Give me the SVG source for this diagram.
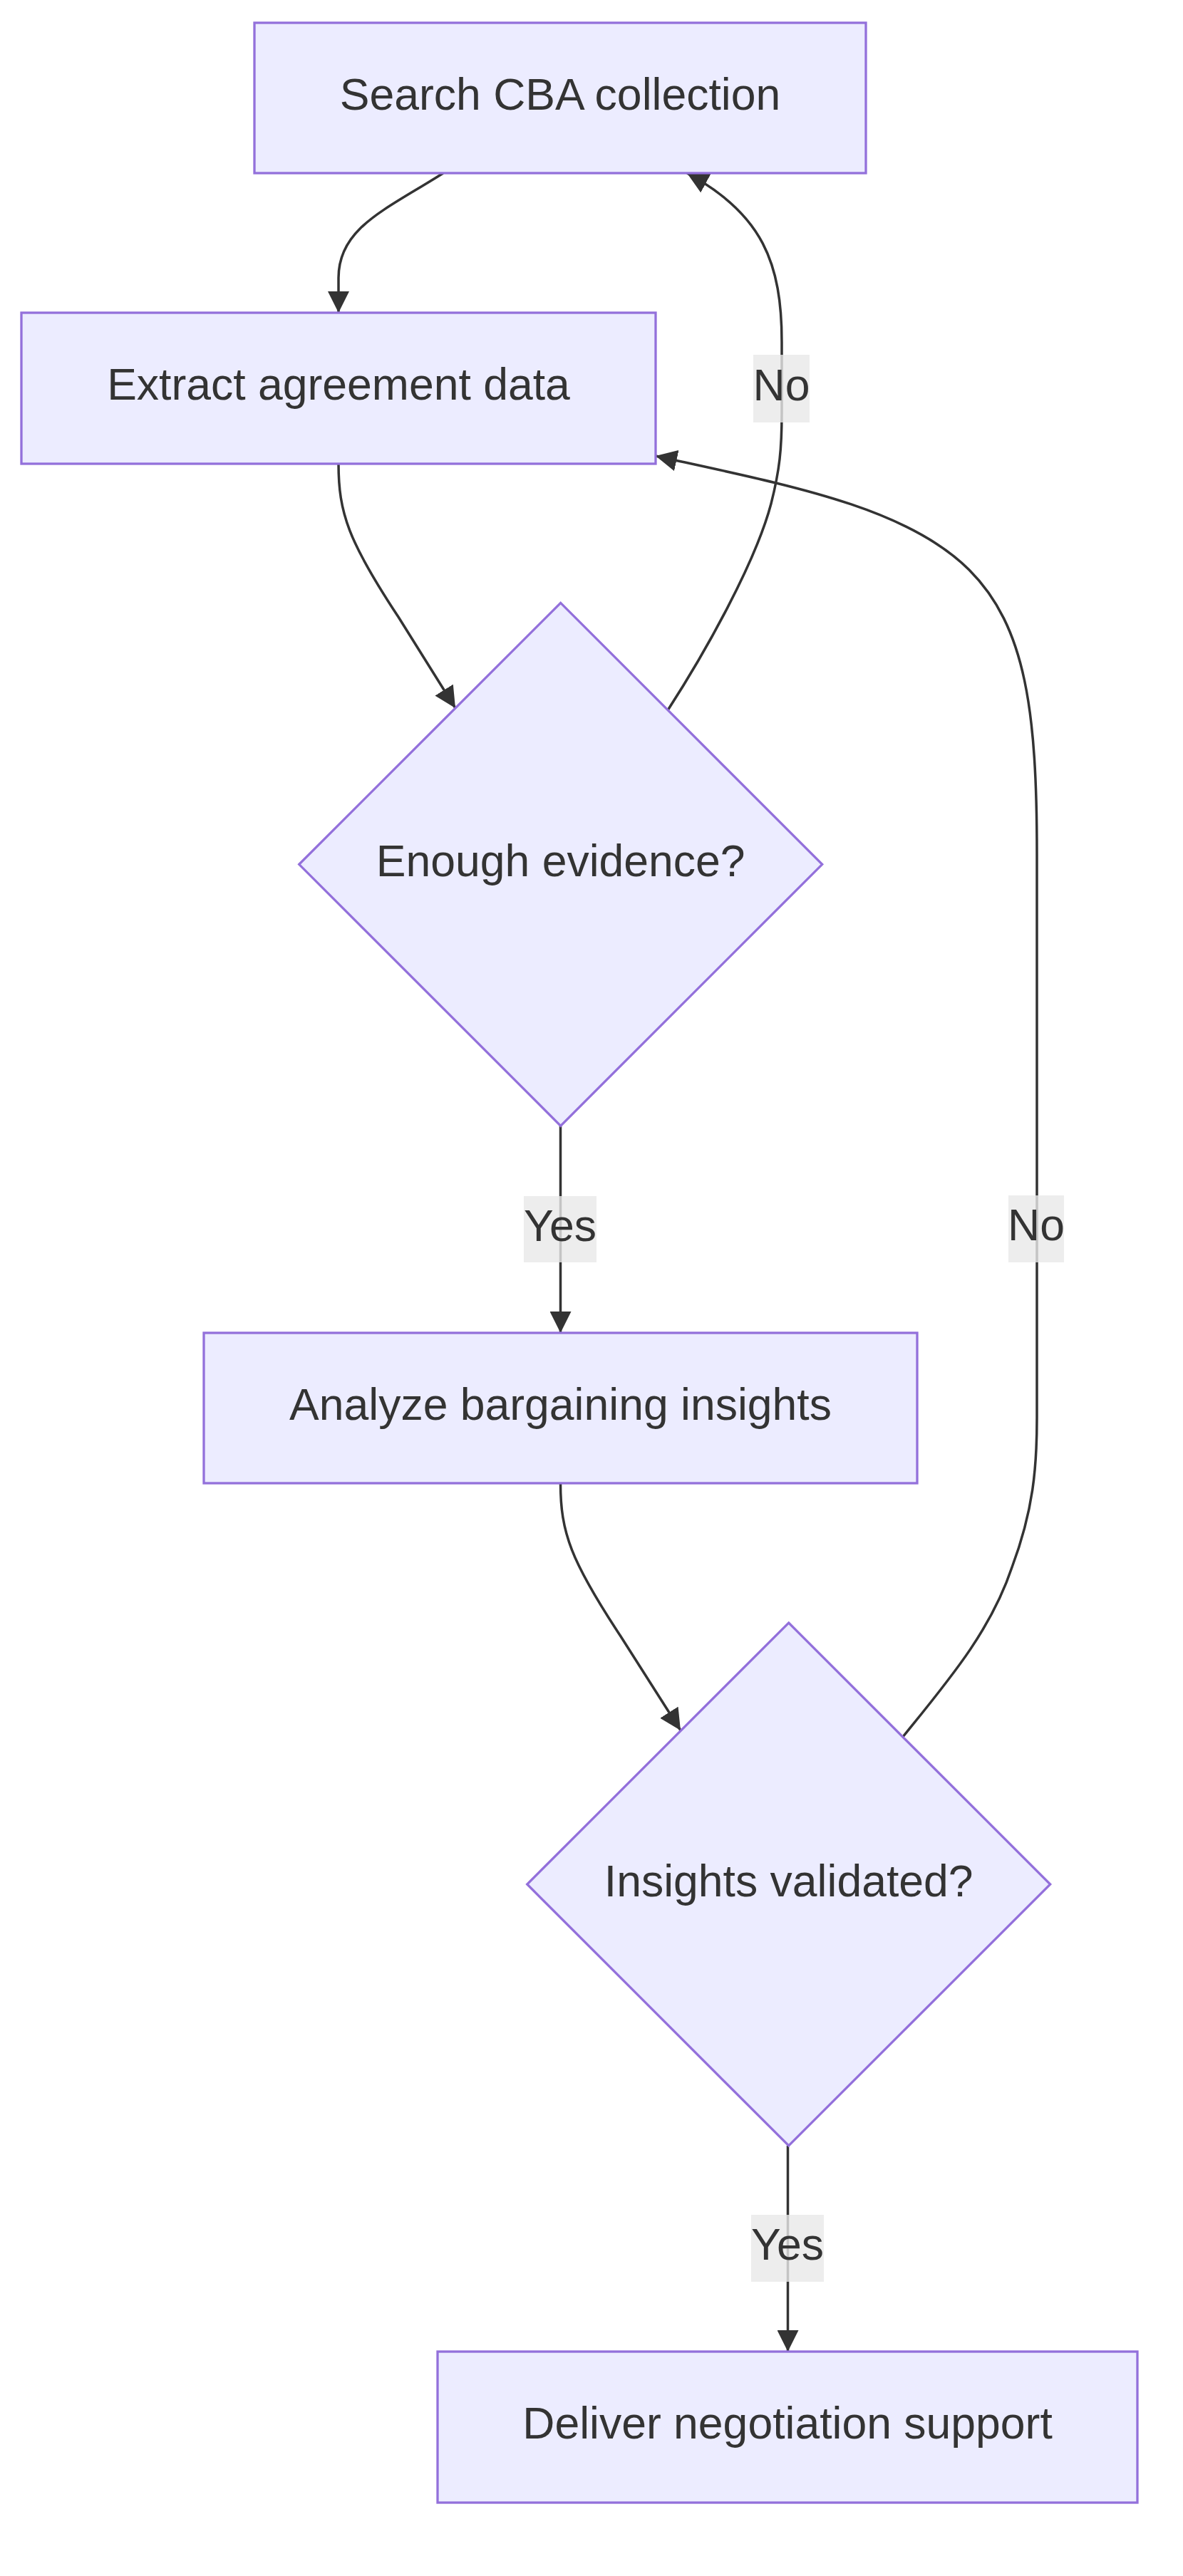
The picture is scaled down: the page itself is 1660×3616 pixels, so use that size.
<svg xmlns="http://www.w3.org/2000/svg" width="1660" height="3616" viewBox="0 0 1660 3616">
<style>
.node rect,.node polygon{fill:#ECECFF;stroke:#9370DB;stroke-width:3.3}
.lbl{font-family:"Liberation Sans",Arial,sans-serif;font-size:62.5px;fill:#333333;text-anchor:middle}
.edge{fill:none;stroke:#333333;stroke-width:3.5}
.elbg{fill:#E8E8E8;fill-opacity:0.8}
</style>
<defs>
<marker id="arrow" viewBox="0 0 10 10" refX="10" refY="5" markerUnits="userSpaceOnUse" markerWidth="30" markerHeight="30" orient="auto">
<path d="M0,0 L10,5 L0,10 z" fill="#333333"/>
</marker>
</defs>
<rect width="1660" height="3616" fill="#ffffff"/>
<g id="connectors">
<path class="edge" d="M622,243 C540,295 475,320 475,390 L475,439" marker-end="url(#arrow)"/>
<path class="edge" d="M475,651 C475,720 489,760 559,866 L639,994" marker-end="url(#arrow)"/>
<path class="edge" d="M937,997 C990,915 1060,790 1082,707 C1094,660 1097,630 1097,580 L1097,480 C1097,370 1070,300 964,243" marker-end="url(#arrow)"/>
<path class="edge" d="M786.5,1580 L786.5,1871" marker-end="url(#arrow)"/>
<path class="edge" d="M786.5,2082 C786.5,2151 801,2191 871,2297 L955,2429" marker-end="url(#arrow)"/>
<path class="edge" d="M1267,2438 C1330,2360 1390,2290 1420,2200 C1450,2120 1455,2060 1455,1990 L1455,1200 C1455,1000 1440,880 1360,800 C1270,710 1100,680 920,640" marker-end="url(#arrow)"/>
<path class="edge" d="M1105.5,3012 L1105.5,3301" marker-end="url(#arrow)"/>
<g id="label-no1"><rect class="elbg" x="1057" y="498" width="79" height="95"/><text class="lbl" x="1096.5" y="561.5">No</text></g>
<g id="label-yes1"><rect class="elbg" x="735" y="1679" width="102" height="93"/><text class="lbl" x="786" y="1741.5">Yes</text></g>
<g id="label-no2"><rect class="elbg" x="1415" y="1678" width="78" height="94"/><text class="lbl" x="1454" y="1741">No</text></g>
<g id="label-yes2"><rect class="elbg" x="1054" y="3109" width="102" height="94"/><text class="lbl" x="1105" y="3172">Yes</text></g>
</g>
<g id="search" class="node"><rect x="357" y="32" width="858" height="211"/><text class="lbl" x="786" y="153.5">Search CBA collection</text></g>
<g id="extract" class="node"><rect x="30" y="439" width="890" height="212"/><text class="lbl" x="475" y="561">Extract agreement data</text></g>
<g id="enough" class="node"><polygon points="786.7,846.3 1153.7,1213.3 786.7,1580.3 419.7,1213.3"/><text class="lbl" x="786.7" y="1230">Enough evidence?</text></g>
<g id="analyze" class="node"><rect x="286" y="1871" width="1001" height="211"/><text class="lbl" x="786.5" y="1992.5">Analyze bargaining insights</text></g>
<g id="validated" class="node"><polygon points="1106.7,2278 1473.7,2645 1106.7,3012 739.7,2645"/><text class="lbl" x="1106.7" y="2661.7">Insights validated?</text></g>
<g id="deliver" class="node"><rect x="614" y="3301" width="982" height="212"/><text class="lbl" x="1105" y="3423">Deliver negotiation support</text></g>
</svg>
